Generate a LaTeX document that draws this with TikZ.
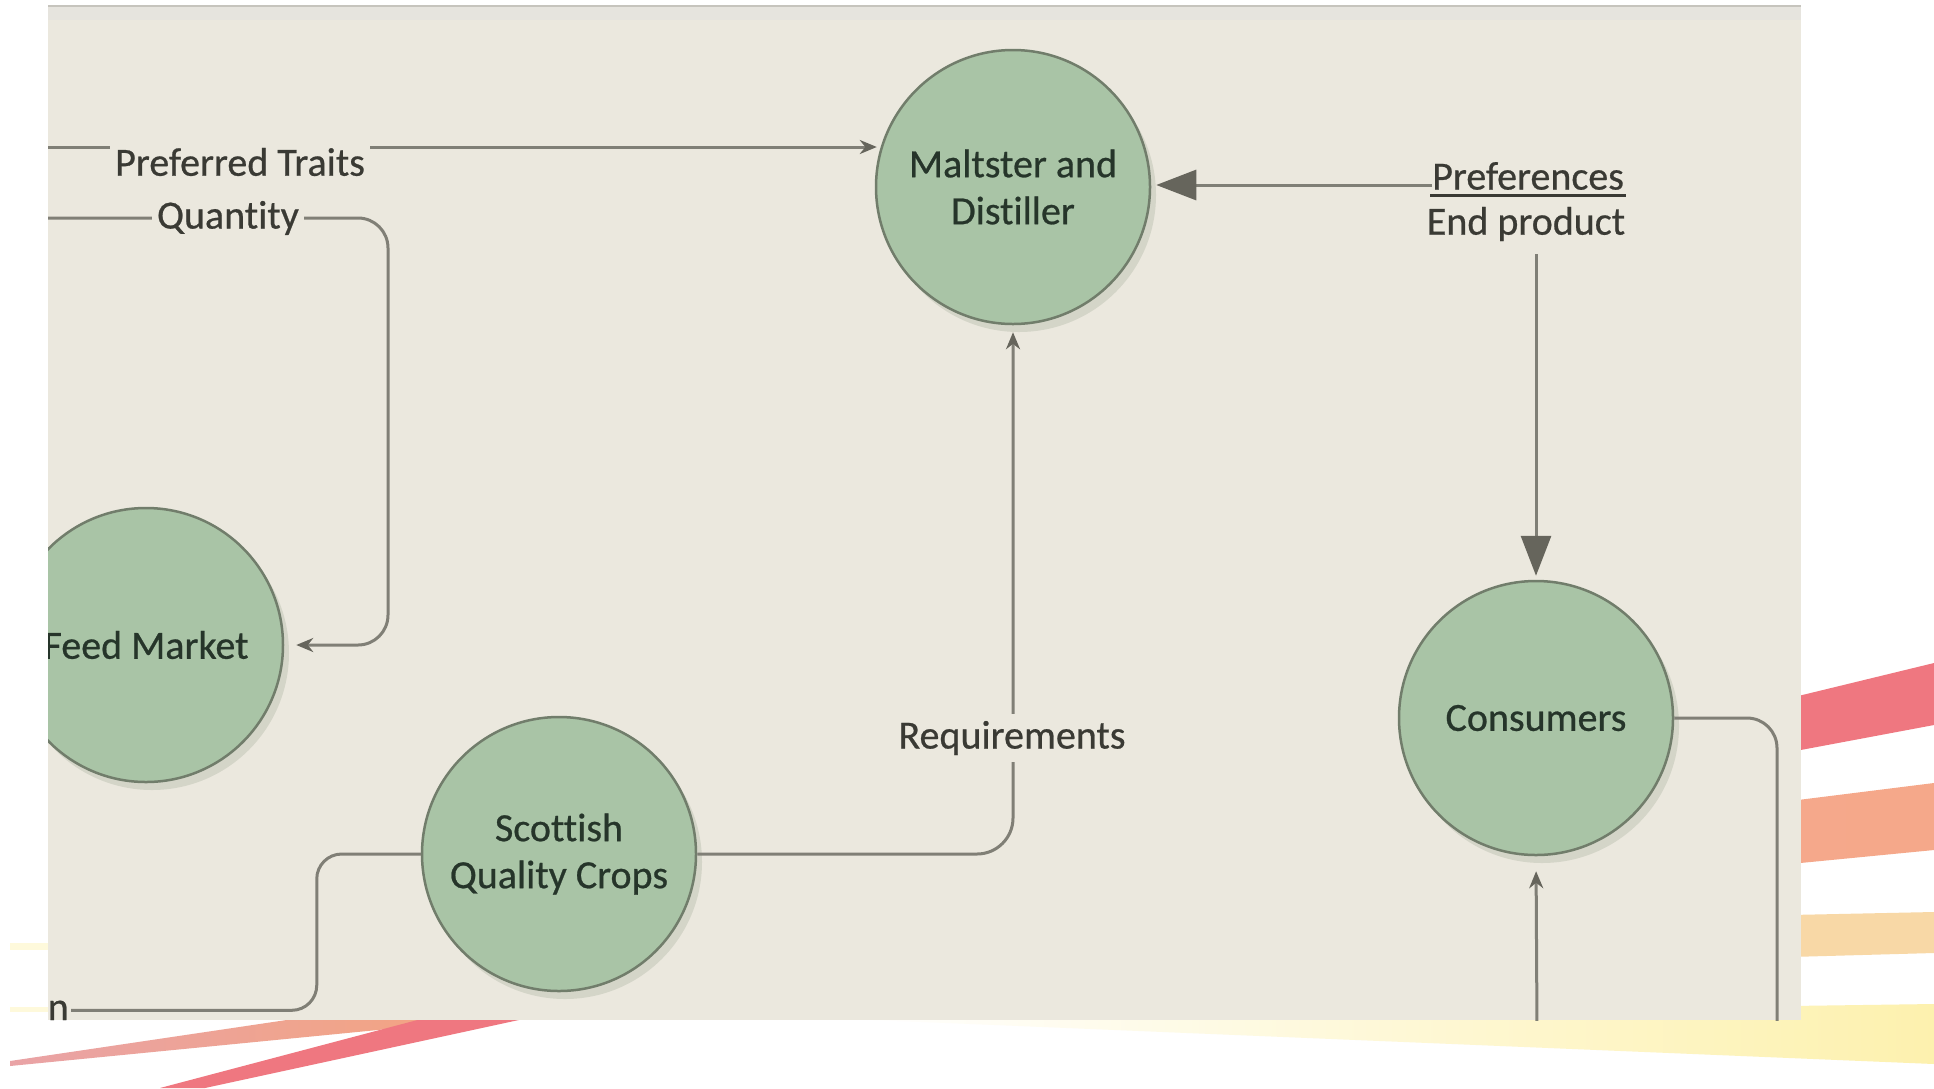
\documentclass[tikz,border=0pt]{standalone}
\usepackage{fontspec}
\setmainfont{Carlito}[Ligatures={NoCommon}, FakeBold=0.6]
\usetikzlibrary{arrows.meta,calc,shadows}
\definecolor{panel}{HTML}{EBE8DE}
\definecolor{panelband}{HTML}{E6E4DE}
\definecolor{paneltop}{HTML}{C6C4BD}
\definecolor{nodefill}{HTML}{A9C4A6}
\definecolor{nodeedge}{HTML}{717D6B}
\definecolor{nodetext}{HTML}{26352A}
\definecolor{linec}{HTML}{807F76}
\definecolor{arrowc}{HTML}{66655C}
\definecolor{labelc}{HTML}{3A3A34}
\definecolor{redst}{HTML}{EF7780}
\definecolor{orangeL}{HTML}{E9A3A6}
\definecolor{orangeR}{HTML}{F4A47E}
\definecolor{orangest}{HTML}{F5A88B}
\definecolor{lightorst}{HTML}{F8D8A6}
\definecolor{yellowst}{HTML}{FDF1AE}
\definecolor{shadowc}{HTML}{D4D5C8}
\begin{document}
\begin{tikzpicture}[x=1pt,y=-1pt,
  actor/.style={circle, draw=nodeedge, line width=2.5pt, fill=nodefill,
    minimum size=274pt, inner sep=0pt, align=center, text=nodetext,
    font=\fontsize{40}{47}\selectfont,
    drop shadow={shadow xshift=6pt, shadow yshift=-8pt, fill=shadowc, opacity=1}},
  lbl/.style={text=labelc, font=\fontsize{40}{47}\selectfont, inner sep=0pt},
  cutlbl/.style={lbl, fill=panel, inner xsep=5pt, inner ysep=7pt},
  conn/.style={draw=linec, line width=3pt},
  smallhead/.style={-{Stealth[length=17pt,width=14pt,color=arrowc]}},
  bighead/.style={-{Triangle[length=40pt,width=30pt,color=arrowc]}},
]
\useasboundingbox (0,0) rectangle (1934,1088);
\fill[white] (0,0) rectangle (1934,1088);
% decorative stripes
\fill[redst] (1790,698) -- (1934,663) -- (1934,725) -- (1790,752) -- cycle;
\shade[left color=orangest, right color=orangest!90!orangeR] (1790,801) -- (1934,783) -- (1934,850) -- (1790,864) -- cycle;
\fill[lightorst] (1790,915) -- (1934,912) -- (1934,953) -- (1790,957) -- cycle;
\shade[left color=white, right color=yellowst] (850,1019) -- (1934,1004) -- (1934,1064) -- cycle;
\shade[left color=orangeL, right color=orangeR] (10,1061) -- (300,1018) -- (500,1018) -- (10,1066) -- cycle;
\fill[redst] (160,1088) -- (425,1018) -- (528,1018) -- (205,1088) -- cycle;
\fill[yellowst!45] (10,943) rectangle (48,950);
\fill[yellowst!45] (10,1007) rectangle (48,1012);
% panel
\fill[panel] (48,6) rectangle (1801,1020);
\fill[panelband] (48,6) rectangle (1801,20);
\draw[paneltop, line width=1.5pt] (48,6) -- (1801,6);
\begin{scope}
\clip (48,6) rectangle (1801,1020);
% actors
\node[actor] (mald) at (1013,187) {Maltster and\\Distiller};
\node[actor] (fm) at (146,645) {Feed Market};
\node[actor] (sqc) at (559,854) {Scottish\\Quality Crops};
\node[actor] (cons) at (1536,718) {Consumers};
% free ends
\coordinate (ptstart) at (40,147);
\coordinate (qstart) at (40,218);
\coordinate (cbot1) at (1777,1030);
\coordinate (cbot2) at (1537,1030);
% text-only labels
\node[lbl] (pref) at (1528,176) {Preferences};
\node[lbl, outer ysep=13pt] (endp) at (1526,224) {End product};
\node[lbl, anchor=base east] (nlab) at (69,1020) {n};
% connectors
\draw[conn, smallhead, shorten >=4pt] (ptstart) -- (ptstart -| mald.163);
\draw[conn, smallhead, rounded corners=30pt, shorten >=12pt] (qstart) -- ++(348,0) |- (fm.east);
\draw[conn, bighead, shorten >=5pt] ([yshift=-9pt]pref.west) -- ([yshift=-9pt]pref.west -| mald.east);
\draw[line width=3pt, draw=labelc] ([yshift=-5pt,xshift=-2pt]pref.south west) -- ([yshift=-5pt,xshift=2pt]pref.south east);
\draw[conn, bighead, shorten >=4pt] (endp.south -| cons.north) -- (cons.north);
\draw[conn, smallhead, rounded corners=36pt, shorten >=7pt] (sqc.east) -| (mald.south);
\draw[conn, rounded corners=25pt, shorten >=2pt] (sqc.west) -- ++(-104,0) |- (nlab.east);
\draw[conn, rounded corners=30pt] (cons.east) -| (cbot1);
\draw[conn, smallhead, shorten >=15pt] (cbot2) -- (cons.south);
% labels on connectors
\node[cutlbl] (pt) at (240,162) {Preferred Traits};
\node[cutlbl] (qty) at (228,218) {Quantity};
\node[cutlbl] (req) at (1012,738) {Requirements};
\end{scope}
\end{tikzpicture}
\end{document}
